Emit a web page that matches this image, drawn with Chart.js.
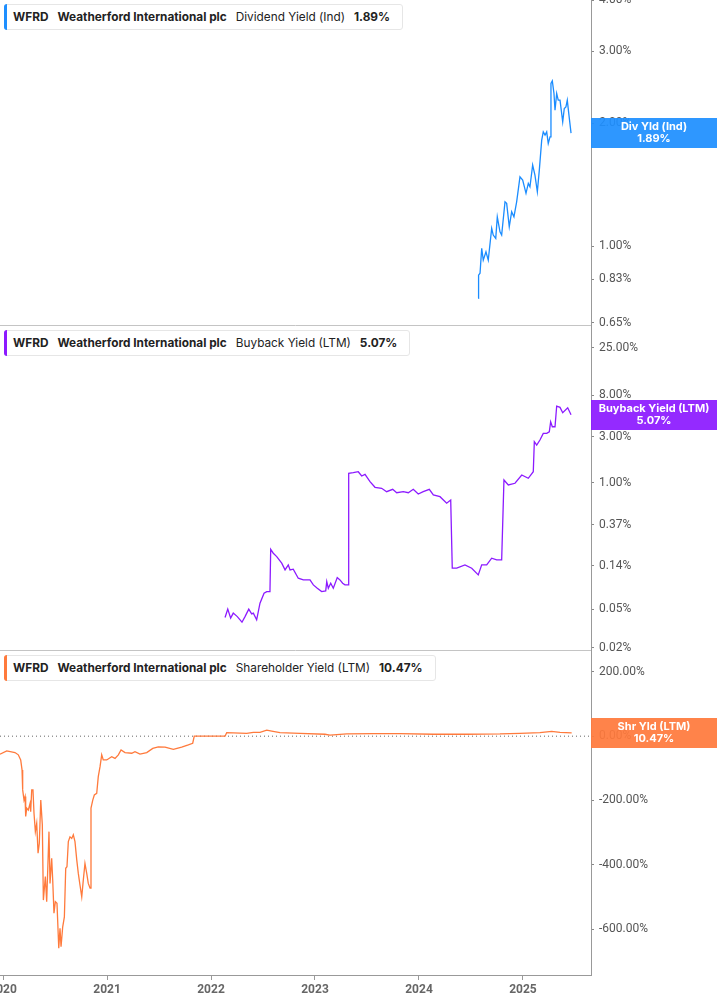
<!DOCTYPE html>
<html>
<head>
<meta charset="utf-8">
<script src="https://cdn.jsdelivr.net/npm/chart.js@4.4.1/dist/chart.umd.min.js"></script>
<style>
  html, body { margin: 0; padding: 0; background: #fff; }
  #wrap { position: relative; width: 717px; height: 1005px; overflow: hidden; }
  canvas { position: absolute; left: 0; }
  .legend {
    position: absolute; left: 4px; height: 26px; z-index: 5;
    display: flex; align-items: center; gap: 9px;
    padding: 0 12px 0 8px; box-sizing: border-box;
    background: #fff; border: 1px solid #e6e6e6; border-radius: 3px;
    font: 11.8px Inter, sans-serif; color: #222; white-space: nowrap;
  }
  .legend::before {
    content: ''; position: absolute; left: -1px; top: -1px; bottom: -1px; width: 3px;
    border-radius: 3px 0 0 3px; background: var(--c);
  }
  .legend b { font-weight: 700; }
</style>
</head>
<body>
<div id="wrap">
  <canvas id="divChart" width="717" height="336" style="top:0"></canvas>
  <canvas id="buyChart" width="717" height="345" style="top:316px"></canvas>
  <canvas id="shrChart" width="717" height="364" style="top:641px"></canvas>

  <div class="legend" style="top:4px; --c:#1e8fff">
    <b>WFRD</b><b>Weatherford International plc</b><span>Dividend Yield (Ind)</span><b>1.89%</b>
  </div>
  <div class="legend" style="top:330px; --c:#8c1aff">
    <b>WFRD</b><b>Weatherford International plc</b><span>Buyback Yield (LTM)</span><b>5.07%</b>
  </div>
  <div class="legend" style="top:655px; --c:#ff7a3c">
    <b>WFRD</b><b>Weatherford International plc</b><span>Shareholder Yield (LTM)</span><b>10.47%</b>
  </div>
</div>

<script>
// time axis (fractional years)
const xMin = 2019.971;
const xMax = 2025.654;
const yearTicks = [2020, 2021, 2022, 2023, 2024, 2025];

// Dividend Yield (Ind), %
const divT = [2024.570, 2024.573, 2024.587, 2024.603, 2024.618, 2024.644, 2024.666, 2024.699, 2024.714, 2024.738,
  2024.753, 2024.779, 2024.795, 2024.827, 2024.843, 2024.868, 2024.891, 2024.913, 2024.939, 2024.971,
  2024.997, 2025.029, 2025.051, 2025.067, 2025.093, 2025.115, 2025.138, 2025.157, 2025.180, 2025.195,
  2025.212, 2025.228, 2025.243, 2025.260, 2025.269, 2025.282, 2025.298, 2025.308, 2025.324, 2025.339,
  2025.356, 2025.382, 2025.397, 2025.413, 2025.426, 2025.442, 2025.462];
const divYield = [0.745, 0.849, 0.858, 0.987, 0.924, 0.968, 0.924, 1.105, 1.064, 1.044,
  1.179, 1.084, 1.064, 1.283, 1.272, 1.115, 1.213, 1.179, 1.283, 1.477,
  1.450, 1.346, 1.423, 1.396, 1.578, 1.492, 1.358, 1.534, 1.816, 1.903,
  1.868, 1.903, 1.783, 1.850, 2.499, 2.536, 2.362, 2.150, 2.362, 2.275,
  2.275, 2.013, 2.171, 2.191, 2.275, 2.091, 1.89];
const divTicks = [4, 3, 2, 1, 0.83, 0.65];

// Buyback Yield (LTM), %
const buyT = [2022.135, 2022.161, 2022.189, 2022.214, 2022.253, 2022.298, 2022.327, 2022.363, 2022.391, 2022.407,
  2022.439, 2022.471, 2022.510, 2022.536, 2022.567, 2022.574, 2022.599, 2022.632, 2022.680, 2022.712,
  2022.743, 2022.760, 2022.791, 2022.839, 2022.888, 2022.952, 2022.984, 2023.022, 2023.064, 2023.103,
  2023.113, 2023.128, 2023.151, 2023.176, 2023.214, 2023.240, 2023.266, 2023.288, 2023.320, 2023.324,
  2023.368, 2023.416, 2023.449, 2023.481, 2023.529, 2023.577, 2023.641, 2023.689, 2023.747, 2023.786,
  2023.849, 2023.897, 2023.945, 2023.993, 2024.041, 2024.099, 2024.138, 2024.202, 2024.266, 2024.305,
  2024.320, 2024.363, 2024.442, 2024.507, 2024.570, 2024.603, 2024.651, 2024.699, 2024.747, 2024.795,
  2024.817, 2024.859, 2024.923, 2024.988, 2025.051, 2025.099, 2025.109, 2025.132, 2025.163, 2025.195,
  2025.228, 2025.253, 2025.266, 2025.282, 2025.308, 2025.324, 2025.356, 2025.382, 2025.430, 2025.462];
const buyYield = [0.0409, 0.0499, 0.0403, 0.0454, 0.0418, 0.0366, 0.0418, 0.0499, 0.0446, 0.0454,
  0.0387, 0.0575, 0.0730, 0.0757, 0.0757, 0.207, 0.1885, 0.174, 0.1487, 0.1268,
  0.1428, 0.1268, 0.129, 0.1041, 0.100, 0.100, 0.0888, 0.0821, 0.0757, 0.0770,
  0.0961, 0.0821, 0.0925, 0.0821, 0.1056, 0.100, 0.0925, 0.0888, 0.0888, 1.259,
  1.277, 1.307, 1.181, 1.229, 1.031, 0.903, 0.882, 0.813, 0.861, 0.794,
  0.813, 0.794, 0.861, 0.770, 0.813, 0.861, 0.752, 0.722, 0.618, 0.668,
  0.132, 0.132, 0.1428, 0.132, 0.1126, 0.1428, 0.1428, 0.1674, 0.1608, 0.1608,
  1.074, 0.954, 0.993, 1.209, 1.118, 1.307, 2.666, 2.465, 2.775, 3.253,
  3.253, 3.380, 4.285, 3.805, 3.805, 6.22, 6.03, 5.305, 5.974, 5.07];
const buyTicks = [25, 8, 3, 1, 0.37, 0.14, 0.05, 0.02];

// Shareholder Yield (LTM), %
const shrT = [2019.971, 2020.036, 2020.115, 2020.147, 2020.170, 2020.183, 2020.189, 2020.202, 2020.212, 2020.218,
  2020.228, 2020.243, 2020.260, 2020.266, 2020.276, 2020.288, 2020.298, 2020.311, 2020.324, 2020.337,
  2020.349, 2020.363, 2020.378, 2020.388, 2020.407, 2020.420, 2020.442, 2020.452, 2020.468, 2020.478,
  2020.490, 2020.503, 2020.519, 2020.536, 2020.548, 2020.558, 2020.574, 2020.590, 2020.603, 2020.615,
  2020.628, 2020.644, 2020.661, 2020.676, 2020.692, 2020.709, 2020.724, 2020.740, 2020.757, 2020.772,
  2020.788, 2020.805, 2020.820, 2020.837, 2020.846, 2020.863, 2020.878, 2020.901, 2020.916, 2020.933,
  2020.949, 2020.964, 2020.997, 2021.045, 2021.077, 2021.109, 2021.135, 2021.173, 2021.238, 2021.269,
  2021.317, 2021.382, 2021.440, 2021.493, 2021.558, 2021.638, 2021.718, 2021.782, 2021.824, 2021.839,
  2021.958, 2022.135, 2022.151, 2022.343, 2022.407, 2022.471, 2022.536, 2022.584, 2022.663, 2022.856,
  2023.096, 2023.144, 2023.305, 2023.561, 2023.817, 2024.138, 2024.459, 2024.779, 2024.971, 2025.163,
  2025.276, 2025.356, 2025.468];
const shrYield = [-56, -46, -51, -58, -74, -105, -167, -199, -188, -250,
  -224, -230, -209, -235, -167, -167, -240, -297, -271, -364,
  -333, -199, -276, -510, -437, -515, -297, -458, -380, -448,
  -551, -515, -520, -660, -598, -655, -593, -562, -411, -406,
  -328, -313, -318, -307, -328, -385, -427, -463, -500, -448,
  -396, -427, -458, -473, -224, -199, -183, -178, -126, -95,
  -58, -74, -74, -64, -69, -58, -43, -51, -53, -48,
  -56, -51, -38, -33, -34, -41, -34, -27, -22, 0,
  0, 0, 11, 9, 12, 12, 19, 16, 11, 9,
  6, 3, 7, 8, 8, 6, 6, 7, 9, 11,
  15, 12, 10.47];
const shrTicks = [200, 0, -200, -400, -600];

Chart.defaults.font.family = 'Roboto, sans-serif';

const toPoints = (xs, ys) => xs.map((x, i) => ({ x, y: ys[i] }));

// separator line + coloured value tag on the right axis
const panelDecor = {
  id: 'panelDecor',
  afterDraw(chart, args, o) {
    const { ctx, chartArea: a, width } = chart;
    ctx.save();
    if (o.separator) {
      ctx.strokeStyle = '#c4c4c4';
      ctx.lineWidth = 1;
      ctx.beginPath();
      ctx.moveTo(0, Math.round(a.bottom) + 0.5);
      ctx.lineTo(a.right, Math.round(a.bottom) + 0.5);
      ctx.stroke();
    }
    const y = chart.scales.y.getPixelForValue(o.value);
    ctx.globalAlpha = 0.93;
    ctx.fillStyle = o.color;
    ctx.fillRect(a.right, Math.round(y - 15), width - a.right, 30);
    ctx.globalAlpha = 1;
    ctx.fillStyle = '#fff';
    ctx.font = 'bold 11px Inter, sans-serif';
    ctx.textAlign = 'center';
    ctx.textBaseline = 'middle';
    const cx = (a.right + width) / 2;
    ctx.fillText(o.title, cx, y - 6);
    ctx.fillText(o.value.toFixed(2) + '%', cx, y + 6);
    ctx.restore();
  }
};

function xAxis(show) {
  return {
    type: 'linear', min: xMin, max: xMax, display: show, bounds: 'data',
    afterBuildTicks: s => { s.ticks = yearTicks.map(v => ({ value: v })); },
    afterFit: s => { s.height = show ? 30 : 0; s.paddingLeft = 0; s.paddingRight = 0; },
    ticks: {
      callback: v => String(v), autoSkip: false, maxRotation: 0, padding: 3,
      color: '#666', font: { size: 12, weight: 'bold' }
    },
    grid: { drawOnChartArea: false, tickLength: 5, tickColor: '#999' },
    border: { color: '#999' }
  };
}

function yAxis(type, min, max, ticks) {
  return {
    type, position: 'right', min, max, bounds: 'data',
    afterBuildTicks: s => { s.ticks = ticks.map(v => ({ value: v })); },
    afterFit: s => { s.width = 126; s.paddingTop = 0; s.paddingBottom = 0; },
    ticks: {
      callback: v => Number(v).toFixed(2) + '%', autoSkip: false, padding: 5,
      color: '#555', font: { size: 12 }
    },
    grid: { drawOnChartArea: false, tickLength: 3, tickColor: '#888' },
    border: { color: '#999' }
  };
}

function panel(id, datasets, y, padding, showX, decor) {
  return new Chart(document.getElementById(id), {
    type: 'line',
    data: { datasets },
    options: {
      responsive: false, animation: false, devicePixelRatio: 1,
      layout: { padding },
      elements: { point: { radius: 0 }, line: { tension: 0 } },
      plugins: { legend: { display: false }, tooltip: { enabled: false }, panelDecor: decor },
      scales: { x: xAxis(showX), y }
    },
    plugins: [panelDecor]
  });
}

panel('divChart',
  [{ data: toPoints(divT, divYield), borderColor: '#1a8cff', borderWidth: 1.3 }],
  yAxis('logarithmic', 0.641, 4.0, divTicks),
  { top: 0, bottom: 11, left: 0, right: 0 }, false,
  { separator: true, color: '#1e8fff', title: 'Div Yld (Ind)', value: 1.89 });

panel('buyChart',
  [{ data: toPoints(buyT, buyYield), borderColor: '#8c1aff', borderWidth: 1.3 }],
  yAxis('logarithmic', 0.0189, 41.7, buyTicks),
  { top: 10, bottom: 11, left: 0, right: 0 }, false,
  { separator: true, color: '#8c1aff', title: 'Buyback Yield (LTM)', value: 5.07 });

panel('shrChart',
  [
    { data: toPoints(shrT, shrYield), borderColor: '#ff7a3c', borderWidth: 1.3 },
    { data: [{ x: xMin, y: 0 }, { x: xMax, y: 0 }], borderColor: '#666', borderWidth: 1, borderDash: [1, 3] }
  ],
  yAxis('linear', -743, 265, shrTicks),
  { top: 10, bottom: 0, left: 0, right: 0 }, true,
  { separator: false, color: '#ff7a3c', title: 'Shr Yld (LTM)', value: 10.47 });
</script>
</body>
</html>
